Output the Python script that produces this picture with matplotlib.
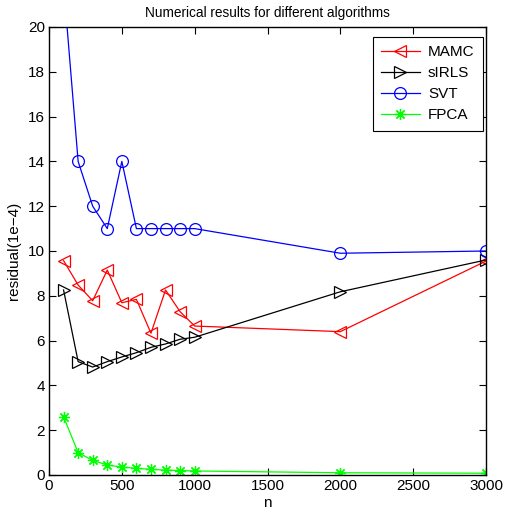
import matplotlib
matplotlib.use("Agg")
import matplotlib.pyplot as plt

n = [100, 200, 300, 400, 500, 600, 700, 800, 900, 1000, 2000, 3000]
mamc = [9.57, 8.48, 7.78, 9.15, 7.69, 7.84, 6.33, 8.26, 7.29, 6.65, 6.4, 9.55]
sirls = [8.26, 5.06, 4.82, 5.06, 5.27, 5.46, 5.7, 5.85, 6.06, 6.15, 8.18, 9.6]
svt = [21.9, 14.0, 12.0, 11.0, 14.0, 11.0, 11.0, 11.0, 11.0, 11.0, 9.9, 10.0]
fpca = [2.6, 1.0, 0.65, 0.45, 0.35, 0.3, 0.25, 0.22, 0.2, 0.18, 0.1, 0.08]

plt.rcParams['font.family'] = ['Liberation Sans', 'DejaVu Sans']

fig = plt.figure(figsize=(5.11, 5.22), dpi=100)
ax = fig.add_axes([49 / 511, 47 / 522, 437 / 511, 448 / 522])

ms = 8.5
lw = 0.9
ax.plot(n, mamc, color='red', marker='<', markersize=ms, markerfacecolor='none',
        linewidth=lw, markeredgewidth=0.9, label='MAMC')
ax.plot(n, sirls, color='black', marker='>', markersize=ms, markerfacecolor='none',
        linewidth=lw, markeredgewidth=0.9, label='sIRLS')
ax.plot(n, svt, color='blue', marker='o', markersize=ms, markerfacecolor='none',
        linewidth=lw, markeredgewidth=0.9, label='SVT')
ax.plot(n, fpca, color='#00ff00', marker=(8, 2, 0), markersize=8,
        linewidth=lw, markeredgewidth=0.9, label='FPCA')

ax.set_xlim(0, 3000)
ax.set_ylim(0, 20)
ax.set_xticks(range(0, 3001, 500))
ax.set_yticks(range(0, 21, 2))
ax.tick_params(direction='in', top=True, right=True, labelsize=11, length=5, width=0.8, pad=3)
for s in ax.spines.values():
    s.set_linewidth(1.0)

ax.set_xlabel('n', fontsize=11, labelpad=2)
ax.set_ylabel('residual(1e\u22124)', fontsize=11, labelpad=5)
ax.set_title('Numerical results for different algorithms', fontsize=9.8, pad=7)

leg = ax.legend(loc='upper right', bbox_to_anchor=(483 / 511, 1 - 37 / 522),
                bbox_transform=fig.transFigure, fontsize=11, fancybox=False,
                framealpha=1, edgecolor='black', borderaxespad=0, handlelength=2.5,
                handletextpad=0.55, labelspacing=0.46, borderpad=0.55)
leg.get_frame().set_linewidth(0.8)

fig.savefig('out.png', dpi=100)
